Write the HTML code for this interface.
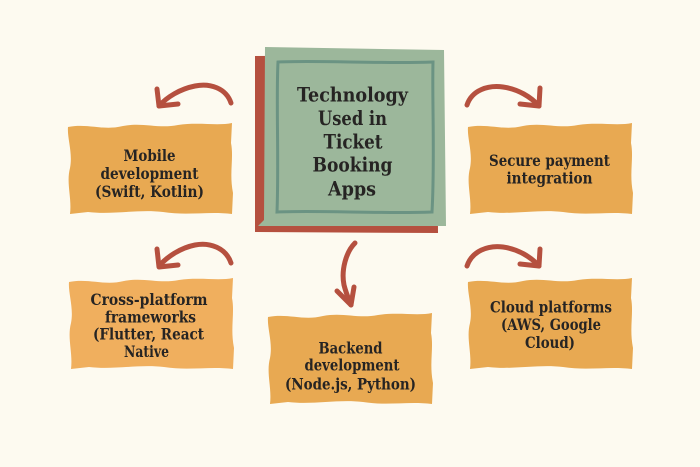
<!DOCTYPE html>
<html>
<head>
<meta charset="utf-8">
<style>
html,body{margin:0;padding:0;background:#fdfaf0;}
body{width:700px;height:467px;overflow:hidden;}
svg{display:block;}
text{font-family:"DejaVu Serif","Liberation Serif",serif;font-weight:bold;fill:#262423;}
</style>
</head>
<body>
<svg width="700" height="467" viewBox="0 0 700 467" xmlns="http://www.w3.org/2000/svg">
<rect x="0" y="0" width="700" height="467" fill="#fdfaf0"/>
<defs>
<path id="wbox" d="M0,4 C20,0 35,8 55,3 C75,-1 90,6 110,2 C130,-1 150,3 164,0 L163,20 C166,35 161,50 165,70 L164,91 C140,88 120,93 95,89 C70,86 45,92 20,89 L2,91 C4,75 -2,60 2,45 C5,30 -1,15 0,4 Z"/>
</defs>

<!-- center box -->
<path d="M255,56 L437,55 L438,233 L255,232 Z" fill="#b5503f"/>
<path d="M265,47 L444,50 L446,226 L258,226 L264,220 Z" fill="#9cb79b"/>
<path d="M278,62 C320,60 380,64 433,62 C432,100 435,160 432,212 C380,214 320,210 277,212 C279,160 276,100 278,62 Z" fill="none" stroke="#6b9383" stroke-width="3"/>
<g font-size="20" text-anchor="middle">
<text x="352.5" y="101.5" textLength="111" lengthAdjust="spacingAndGlyphs">Technology</text>
<text x="352.5" y="125" textLength="69" lengthAdjust="spacingAndGlyphs">Used in</text>
<text x="353" y="148.5" textLength="59" lengthAdjust="spacingAndGlyphs">Ticket</text>
<text x="352.5" y="171.5" textLength="80" lengthAdjust="spacingAndGlyphs">Booking</text>
<text x="352" y="195.5" textLength="48" lengthAdjust="spacingAndGlyphs">Apps</text>
</g>

<!-- orange boxes -->
<use href="#wbox" x="68" y="123" fill="#e8a952"/>
<use href="#wbox" x="468" y="123" fill="#e8a952"/>
<use href="#wbox" x="69" y="278" fill="#f0af5e"/>
<use href="#wbox" x="468" y="278" fill="#e8a952"/>
<use href="#wbox" x="268" y="313" fill="#e8a952"/>

<g font-size="16" text-anchor="middle">
<text x="149.5" y="161" textLength="52" lengthAdjust="spacingAndGlyphs">Mobile</text>
<text x="149.5" y="179" textLength="98" lengthAdjust="spacingAndGlyphs">development</text>
<text x="149.5" y="197" textLength="109" lengthAdjust="spacingAndGlyphs">(Swift, Kotlin)</text>

<text x="549.5" y="166" textLength="121" lengthAdjust="spacingAndGlyphs">Secure payment</text>
<text x="549.5" y="183.5" textLength="86" lengthAdjust="spacingAndGlyphs">integration</text>

<text x="149" y="305" textLength="117" lengthAdjust="spacingAndGlyphs">Cross-platform</text>
<text x="150.5" y="322.5" textLength="91" lengthAdjust="spacingAndGlyphs">frameworks</text>
<text x="148.5" y="339.5" textLength="111" lengthAdjust="spacingAndGlyphs">(Flutter, React</text>
<text x="146.5" y="357" textLength="45" lengthAdjust="spacingAndGlyphs">Native</text>

<text x="551" y="312.5" textLength="122" lengthAdjust="spacingAndGlyphs">Cloud platforms</text>
<text x="551" y="330" textLength="100" lengthAdjust="spacingAndGlyphs">(AWS, Google</text>
<text x="550" y="348" textLength="50" lengthAdjust="spacingAndGlyphs">Cloud)</text>

<text x="350.5" y="353.5" textLength="64" lengthAdjust="spacingAndGlyphs">Backend</text>
<text x="352" y="370.5" textLength="95" lengthAdjust="spacingAndGlyphs">development</text>
<text x="350.5" y="389.5" textLength="131" lengthAdjust="spacingAndGlyphs">(Node.js, Python)</text>
</g>

<!-- arrows -->
<g fill="none" stroke="#b5503f" stroke-width="5" stroke-linecap="round" stroke-linejoin="round">
<path d="M231,103 C226,88 210,83 195,86 C180,89 167,97 159,106"/>
<path d="M157,89 L159,106 L178,104"/>

<path d="M467,105 C472,90 488,85 503,87 C518,89 531,97 539,106"/>
<path d="M540,88 L539,106 L520,104"/>

<path d="M231,263 C226,248 210,242 195,245 C180,248 167,257 159,266"/>
<path d="M157,249 L159,267 L178,265"/>

<path d="M467,266 C472,251 488,245 503,247 C518,249 531,257 539,266"/>
<path d="M540,249 L539,266 L520,264"/>

<path d="M355,243 C346,252 341,270 344,285 C346,293 349,300 351,305"/>
<path d="M337,291 L351,305 L354,287"/>
</g>
</svg>
</body>
</html>
